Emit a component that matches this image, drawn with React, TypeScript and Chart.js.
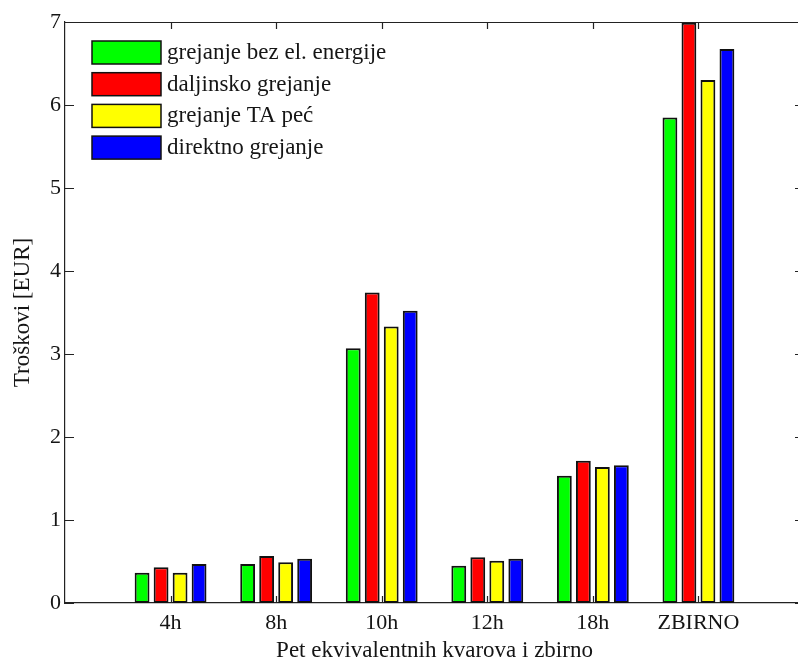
import React, { useEffect, useRef } from "react";
import { Chart, registerables } from "chart.js";

Chart.register(...registerables);

const categories = ["4h", "8h", "10h", "12h", "18h", "ZBIRNO"];
const seriesNames = [
  "grejanje bez el. energije",
  "daljinsko grejanje",
  "grejanje TA peć",
  "direktno grejanje",
];
const greenValues = [0.365, 0.47, 3.07, 0.45, 1.534, 5.85];
const redValues = [0.43, 0.566, 3.74, 0.55, 1.715, 6.99];
const yellowValues = [0.365, 0.49, 3.33, 0.51, 1.639, 6.3];
const blueValues = [0.47, 0.534, 3.52, 0.534, 1.659, 6.675];
const seriesColors = ["#00ff00", "#ff0000", "#ffff00", "#0000ff"];
const yTicks = [0, 1, 2, 3, 4, 5, 6, 7];

const FONT = '"Liberation Serif", "Times New Roman", serif';
const TEXT = "#151515";

const innerTicks = {
  id: "innerTicks",
  beforeDatasetsDraw(chart: any) {
    const { ctx, chartArea } = chart;
    const x = chart.scales.x;
    const y = chart.scales.y;
    ctx.save();
    ctx.strokeStyle = "#222";
    ctx.lineWidth = 1.2;
    ctx.beginPath();
    categories.forEach((_, i) => {
      const px = Math.round(x.getPixelForValue(i + 1)) + 0.5;
      ctx.moveTo(px, chartArea.top);
      ctx.lineTo(px, chartArea.top + 7);
      ctx.moveTo(px, chartArea.bottom);
      ctx.lineTo(px, chartArea.bottom - 7);
    });
    yTicks.forEach((v) => {
      const py = Math.round(y.getPixelForValue(v)) + 0.5;
      ctx.moveTo(chartArea.left, py);
      ctx.lineTo(chartArea.left + 9, py);
      ctx.moveTo(chartArea.right, py);
      ctx.lineTo(chartArea.right - 9, py);
    });
    ctx.stroke();
    ctx.restore();
  },
  afterDraw(chart: any) {
    const { ctx, chartArea } = chart;
    ctx.save();
    ctx.strokeStyle = "#222";
    ctx.lineWidth = 1.2;
    ctx.beginPath();
    ctx.moveTo(chartArea.left, Math.round(chartArea.top) + 0.5);
    ctx.lineTo(chartArea.right, Math.round(chartArea.top) + 0.5);
    ctx.lineTo(chartArea.right, chartArea.bottom);
    ctx.stroke();

    // legend
    const lx = chartArea.left + 27;
    const ly = chartArea.top + 19;
    const step = 31.7;
    ctx.font = `23px ${FONT}`;
    ctx.textBaseline = "middle";
    ctx.textAlign = "left";
    chart.data.datasets.forEach((ds: any, i: number) => {
      const by = ly + i * step;
      ctx.fillStyle = ds.backgroundColor;
      ctx.fillRect(lx, by, 69, 23);
      ctx.lineWidth = 1.5;
      ctx.strokeStyle = "#111";
      ctx.strokeRect(lx, by, 69, 23);
      ctx.fillStyle = TEXT;
      ctx.fillText(ds.label, lx + 75, by + 12);
    });
    ctx.restore();
  },
};

export default function App() {
  const ref = useRef<HTMLCanvasElement>(null);
  useEffect(() => {
    if (!ref.current) return;
    const labels = ["", ...categories, ""];
    const pad = (arr: number[]) => [null, ...arr, null];
    const all = [greenValues, redValues, yellowValues, blueValues];
    const chart = new Chart(ref.current, {
      type: "bar",
      data: {
        labels,
        datasets: all.map((vals, i) => ({
          label: seriesNames[i],
          data: pad(vals) as any,
          backgroundColor: seriesColors[i],
          borderColor: "#111",
          borderWidth: 2,
          borderSkipped: false,
          categoryPercentage: 0.72,
          barPercentage: 0.78,
        })),
      },
      options: {
        responsive: false,
        animation: false,
        devicePixelRatio: 1,
        layout: { padding: { top: 22, right: 5, left: 0, bottom: 0 } },
        plugins: { legend: { display: false }, tooltip: { enabled: false } },
        scales: {
          x: {
            type: "category",
            offset: false,
            grid: { display: false, drawTicks: false },
            border: { display: true, color: "#222", width: 1.2 },
            ticks: {
              autoSkip: false,
              maxRotation: 0,
              padding: 7,
              color: TEXT,
              font: { family: FONT, size: 22 },
            },
            title: {
              display: true,
              text: "Pet ekvivalentnih kvarova i zbirno",
              color: TEXT,
              font: { family: FONT, size: 23 },
              padding: { top: 0, bottom: -3 },
            },
            afterFit: (s: any) => {
              s.height = 59;
            },
          },
          y: {
            min: 0,
            max: 7,
            grid: { display: false, drawTicks: false },
            border: { display: true, color: "#222", width: 1.2 },
            ticks: {
              stepSize: 1,
              padding: 4,
              color: TEXT,
              font: { family: FONT, size: 22 },
            },
            afterBuildTicks: (s: any) => {
              s.ticks = yTicks.map((v) => ({ value: v }));
            },
            title: {
              display: true,
              text: "Troškovi [EUR]",
              color: TEXT,
              font: { family: FONT, size: 23 },
              padding: { top: 9, bottom: 0 },
            },
            afterFit: (s: any) => {
              s.width = 65;
            },
          },
        },
      },
      plugins: [innerTicks],
    });
    return () => chart.destroy();
  }, []);
  return (
    <div
      style={{
        position: "fixed",
        left: 0,
        top: 0,
        width: 798,
        height: 662,
        overflow: "hidden",
        background: "#fff",
      }}
    >
      <canvas ref={ref} width={811} height={662} style={{ display: "block" }} />
    </div>
  );
}
